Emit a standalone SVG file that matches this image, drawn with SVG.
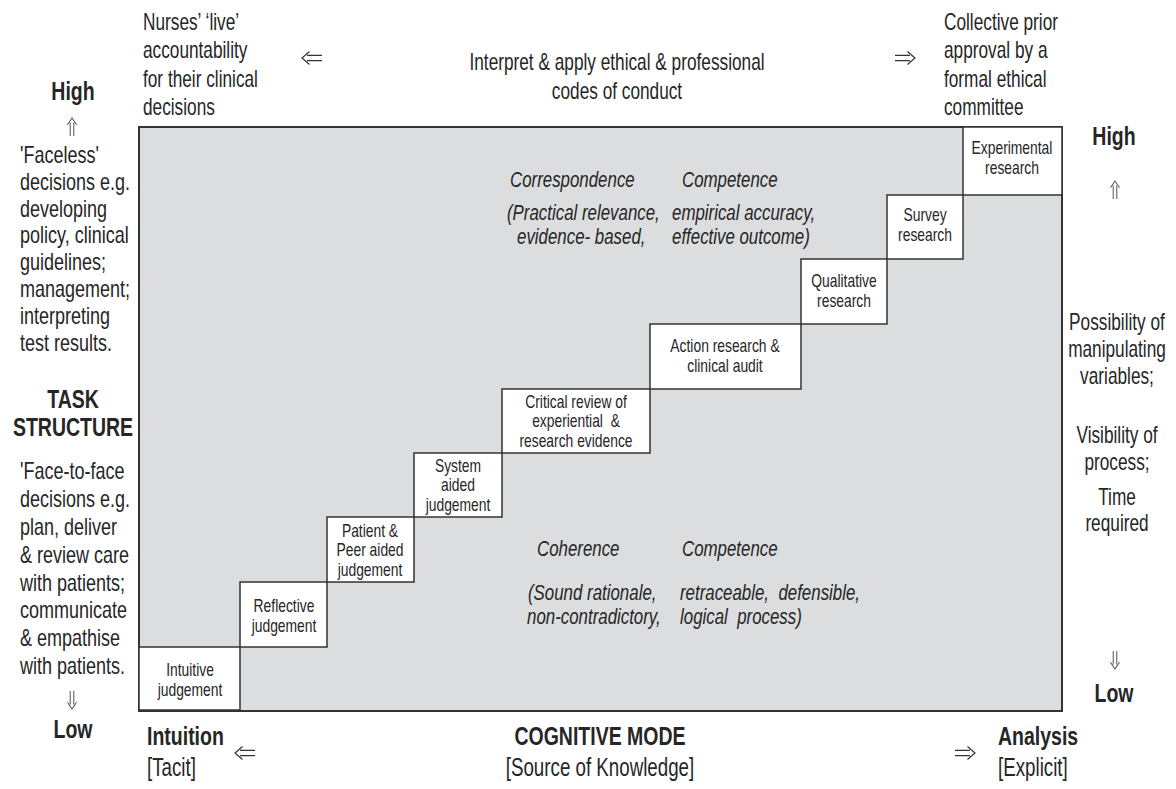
<svg xmlns="http://www.w3.org/2000/svg" width="1176" height="789" viewBox="0 0 1176 789">
<style>
.t{font-family:"Liberation Sans",Arial,sans-serif;fill:#262626}
.o{font-size:23px}
.l{font-size:24px}
.b{font-size:26px;font-weight:bold}
.br{font-size:25px}
.bx{font-size:18px;text-anchor:middle}
.it{font-size:22.5px;font-style:italic}
.m{text-anchor:middle}
.box{fill:#ffffff;stroke:#333333;stroke-width:1.5}
.arr{fill:none;stroke:#333333;stroke-width:1.2}
</style>
<defs>
<path id="dbl" class="arr" d="M-5,-2.6H10M-5,2.6H10M-2.5,-6.5L-10,0L-2.5,6.5"/>
</defs>
<rect width="1176" height="789" fill="#ffffff"/>
<g id="frame"><rect x="139" y="127" width="923" height="584" fill="#dcdddf" stroke="#333333" stroke-width="2"/></g>

<g id="n-intuitive"><rect class="box" x="139" y="647" width="101" height="63"/>
<text class="t bx" transform="translate(190,676) scale(.77,1)"><tspan x="0">Intuitive</tspan><tspan x="0" dy="20">judgement</tspan></text></g>
<g id="n-reflective"><rect class="box" x="240" y="582" width="87" height="65"/>
<text class="t bx" transform="translate(284,612) scale(.77,1)"><tspan x="0">Reflective</tspan><tspan x="0" dy="20">judgement</tspan></text></g>
<g id="n-patient"><rect class="box" x="327" y="517" width="87" height="65"/>
<text class="t bx" transform="translate(370,537) scale(.77,1)"><tspan x="0">Patient &amp;</tspan><tspan x="0" dy="19.5">Peer aided</tspan><tspan x="0" dy="19.5">judgement</tspan></text></g>
<g id="n-system"><rect class="box" x="414" y="453" width="88" height="64"/>
<text class="t bx" transform="translate(458,472) scale(.77,1)"><tspan x="0">System</tspan><tspan x="0" dy="19.5">aided</tspan><tspan x="0" dy="19.5">judgement</tspan></text></g>
<g id="n-critical"><rect class="box" x="502" y="389" width="148" height="64"/>
<text class="t bx" xml:space="preserve" transform="translate(576,408) scale(.77,1)"><tspan x="0">Critical review of</tspan><tspan x="0" dy="19.5">experiential  &amp;</tspan><tspan x="0" dy="19.5">research evidence</tspan></text></g>
<g id="n-action"><rect class="box" x="650" y="324" width="151" height="65"/>
<text class="t bx" transform="translate(725,352) scale(.77,1)"><tspan x="0">Action research &amp;</tspan><tspan x="0" dy="20">clinical audit</tspan></text></g>
<g id="n-qualitative"><rect class="box" x="801" y="259" width="86" height="65"/>
<text class="t bx" transform="translate(844,287) scale(.77,1)"><tspan x="0">Qualitative</tspan><tspan x="0" dy="20">research</tspan></text></g>
<g id="n-survey"><rect class="box" x="887" y="195" width="76" height="64"/>
<text class="t bx" transform="translate(925,221) scale(.77,1)"><tspan x="0">Survey</tspan><tspan x="0" dy="20">research</tspan></text></g>
<g id="n-experimental"><rect class="box" x="963" y="127" width="99" height="68"/>
<text class="t bx" transform="translate(1012,154) scale(.77,1)"><tspan x="0">Experimental</tspan><tspan x="0" dy="20">research</tspan></text></g>

<g id="upper-criteria">
<text class="t it" transform="translate(510,187) scale(.75,1)">Correspondence</text>
<text class="t it" transform="translate(682,187) scale(.75,1)">Competence</text>
<text class="t it" transform="translate(507,220) scale(.75,1)">(Practical relevance,</text>
<text class="t it" transform="translate(672,220) scale(.75,1)">empirical accuracy,</text>
<text class="t it" transform="translate(517,244) scale(.75,1)">evidence- based,</text>
<text class="t it" transform="translate(672,244) scale(.75,1)">effective outcome)</text>
</g>
<g id="lower-criteria">
<text class="t it" transform="translate(537,556) scale(.75,1)">Coherence</text>
<text class="t it" transform="translate(682,556) scale(.75,1)">Competence</text>
<text class="t it" transform="translate(528,600) scale(.75,1)">(Sound rationale,</text>
<text class="t it" xml:space="preserve" transform="translate(680,600) scale(.75,1)">retraceable,  defensible,</text>
<text class="t it" transform="translate(527,624) scale(.75,1)">non-contradictory,</text>
<text class="t it" xml:space="preserve" transform="translate(680,624) scale(.75,1)">logical  process)</text>
</g>

<g id="top-left">
<text class="t o" transform="translate(143,30) scale(.75,1)"><tspan x="0">Nurses’ ‘live’</tspan><tspan x="0" dy="28.5">accountability</tspan><tspan x="0" dy="28.5">for their clinical</tspan><tspan x="0" dy="28.5">decisions</tspan></text>
</g>
<g id="top-center">
<text class="t o m" transform="translate(617,70) scale(.75,1)"><tspan x="0">Interpret &amp; apply ethical &amp; professional</tspan><tspan x="0" dy="29">codes of conduct</tspan></text>
</g>
<g id="top-right">
<text class="t o" transform="translate(944,30) scale(.75,1)"><tspan x="0">Collective prior</tspan><tspan x="0" dy="28.5">approval by a</tspan><tspan x="0" dy="28.5">formal ethical</tspan><tspan x="0" dy="28.5">committee</tspan></text>
</g>

<g id="left-axis">
<text class="t b m" transform="translate(73,100) scale(.75,1)">High</text>
<text class="t l" transform="translate(20,163) scale(.75,1)"><tspan x="0">'Faceless'</tspan><tspan x="0" dy="26.8">decisions e.g.</tspan><tspan x="0" dy="26.8">developing</tspan><tspan x="0" dy="26.8">policy, clinical</tspan><tspan x="0" dy="26.8">guidelines;</tspan><tspan x="0" dy="26.8">management;</tspan><tspan x="0" dy="26.8">interpreting</tspan><tspan x="0" dy="26.8">test results.</tspan></text>
<text class="t b m" transform="translate(73,408) scale(.75,1)"><tspan x="0">TASK</tspan><tspan x="0" dy="28">STRUCTURE</tspan></text>
<text class="t l" transform="translate(20,479) scale(.75,1)"><tspan x="0">'Face-to-face</tspan><tspan x="0" dy="27.9">decisions e.g.</tspan><tspan x="0" dy="27.9">plan, deliver</tspan><tspan x="0" dy="27.9">&amp; review care</tspan><tspan x="0" dy="27.9">with patients;</tspan><tspan x="0" dy="27.9">communicate</tspan><tspan x="0" dy="27.9">&amp; empathise</tspan><tspan x="0" dy="27.9">with patients.</tspan></text>
<text class="t b m" transform="translate(73,738) scale(.75,1)">Low</text>
</g>

<g id="right-axis">
<text class="t b m" transform="translate(1114,145) scale(.75,1)">High</text>
<text class="t o m" transform="translate(1117,330) scale(.75,1)"><tspan x="0">Possibility of</tspan><tspan x="0" dy="27">manipulating</tspan><tspan x="0" dy="27">variables;</tspan></text>
<text class="t o m" transform="translate(1117,443) scale(.75,1)"><tspan x="0">Visibility of</tspan><tspan x="0" dy="27">process;</tspan></text>
<text class="t o m" transform="translate(1117,505) scale(.75,1)"><tspan x="0">Time</tspan><tspan x="0" dy="26">required</tspan></text>
<text class="t b m" transform="translate(1114,702) scale(.75,1)">Low</text>
</g>

<g id="bottom-axis">
<text class="t b" transform="translate(147,745) scale(.75,1)">Intuition</text>
<text class="t br" transform="translate(147,776) scale(.75,1)">[Tacit]</text>
<text class="t b m" transform="translate(600,745) scale(.75,1)">COGNITIVE MODE</text>
<text class="t br m" transform="translate(600,776) scale(.75,1)">[Source of Knowledge]</text>
<text class="t b" transform="translate(998,745) scale(.75,1)">Analysis</text>
<text class="t br" transform="translate(998,776) scale(.75,1)">[Explicit]</text>
</g>

<g id="connectors">
<use href="#dbl" transform="translate(312,58)"/>
<use href="#dbl" transform="translate(905,58) rotate(180)"/>
<use href="#dbl" transform="translate(245,753)"/>
<use href="#dbl" transform="translate(965,753) rotate(180)"/>
<use href="#dbl" transform="translate(72,127) rotate(90) scale(.9,.7)"/>
<use href="#dbl" transform="translate(1115,190) rotate(90) scale(.9,.7)"/>
<use href="#dbl" transform="translate(72,700) rotate(-90) scale(.9,.7)"/>
<use href="#dbl" transform="translate(1115,660) rotate(-90) scale(.9,.7)"/>
</g>
</svg>
